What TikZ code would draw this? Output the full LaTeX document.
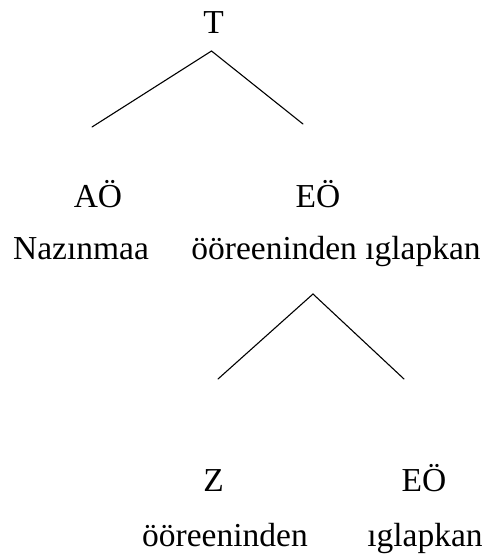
\documentclass[tikz,border=0pt]{standalone}
\usepackage{fontspec}
\setmainfont{Liberation Serif}
\begin{document}
\begin{tikzpicture}[x=1pt,y=-1pt,
  lbl/.style={anchor=base,inner sep=0pt,font=\fontsize{33.5}{40}\selectfont},
  edge/.style={line width=1.1pt,line cap=round,line join=miter}]
\useasboundingbox (0,0) rectangle (490,557);
\node[lbl] (t) at (213.5,33) {T};
\node[lbl] (ao) at (98,207) {AÖ};
\node[lbl] (eo1) at (318,207) {EÖ};
\node[lbl] (naz) at (81,259) {Nazınmaa};
\node[lbl] (oi) at (336,259) {ööreeninden ıglapkan};
\node[lbl] (z) at (213.5,491) {Z};
\node[lbl] (eo2) at (424,491) {EÖ};
\node[lbl] (oor) at (225,546) {ööreeninden};
\node[lbl] (igl) at (425,546) {ıglapkan};
\coordinate (v1) at (211.5,51);
\coordinate (l1) at (92,127);
\coordinate (r1) at (303,124);
\coordinate (v2) at (313,294);
\coordinate (l2) at (218,379);
\coordinate (r2) at (404,379);
\draw[edge] (l1) -- (v1) -- (r1);
\draw[edge] (l2) -- (v2) -- (r2);
\end{tikzpicture}
\end{document}
